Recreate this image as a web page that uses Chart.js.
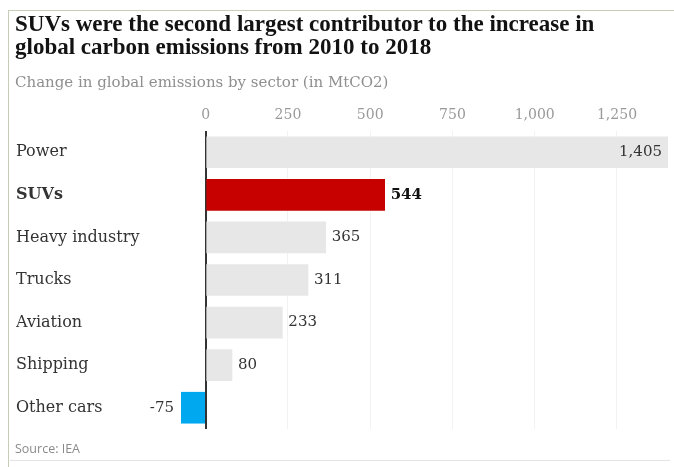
<!DOCTYPE html>
<html>
<head>
<meta charset="utf-8">
<script src="https://cdn.jsdelivr.net/npm/chart.js@4/dist/chart.umd.min.js"></script>
<style>
  html, body { margin: 0; padding: 0; background: #fff; }
  #wrap { position: relative; width: 674px; height: 467px; overflow: hidden; }
  #frame { position: absolute; left: 8px; top: 10px; width: 680px; height: 470px;
           border-left: 1px solid #c6cdb9; border-top: 1px solid #c6cdb9; }
  #title { position: absolute; left: 15px; top: 12px; width: 625px;
           font: bold 23px "Liberation Serif", serif; line-height: 23px; color: #121212; }
  #subtitle { position: absolute; left: 15px; top: 73px;
              font: 15px "DejaVu Serif", serif; color: #8f8f8f; }
  #source { position: absolute; left: 15px; top: 440px;
            font: 12.5px "Open Sans", sans-serif; color: #8a8a8a; }
  #rule { position: absolute; left: 10px; right: 4px; top: 460px; border-top: 1px solid #e4e4e4; }
  canvas { position: absolute; left: 0; top: 0; }
</style>
</head>
<body>
<div id="wrap">
  <div id="frame"></div>
  <canvas id="chart" width="674" height="467"></canvas>
  <div id="title">SUVs were the second largest contributor to the increase in global carbon emissions from 2010 to 2018</div>
  <div id="subtitle">Change in global emissions by sector (in MtCO2)</div>
  <div id="source">Source: IEA</div>
  <div id="rule"></div>
</div>
<script>
// data
const sectors = ['Power', 'SUVs', 'Heavy industry', 'Trucks', 'Aviation', 'Shipping', 'Other cars'];
const emissionChange = [1405, 544, 365, 311, 233, 80, -75];
const axisTicks = [0, 250, 500, 750, 1000, 1250];

const barColors = emissionChange.map((v, i) =>
    sectors[i] === 'SUVs' ? '#c70000' : (v < 0 ? '#00a8f0' : '#e7e7e7'));

const fmt = v => v.toLocaleString('en-US');

// value labels next to each bar
const valueLabels = {
    id: 'valueLabels',
    afterDatasetsDraw(chart) {
        const ctx = chart.ctx;
        const meta = chart.getDatasetMeta(0);
        const area = chart.chartArea;
        ctx.save();
        ctx.textBaseline = 'middle';
        meta.data.forEach((bar, i) => {
            const v = emissionChange[i];
            const bold = sectors[i] === 'SUVs';
            ctx.font = (bold ? 'bold ' : '') + '15px "DejaVu Serif", serif';
            ctx.fillStyle = bold ? '#121212' : '#333';
            const txt = fmt(v);
            const w = ctx.measureText(txt).width;
            if (v < 0) {
                ctx.textAlign = 'right';
                ctx.fillText(txt, bar.x - 7, bar.y);
            } else if (bar.x + 6 + w > area.right) {
                ctx.textAlign = 'right';
                ctx.fillText(txt, bar.x - 6, bar.y);
            } else {
                ctx.textAlign = 'left';
                ctx.fillText(txt, bar.x + 6, bar.y);
            }
        });
        ctx.restore();
    }
};

new Chart(document.getElementById('chart'), {
    type: 'bar',
    data: {
        labels: sectors,
        datasets: [{
            data: emissionChange,
            backgroundColor: barColors,
            borderWidth: 0,
            barThickness: 31
        }]
    },
    options: {
        indexAxis: 'y',
        responsive: false,
        animation: false,
        layout: { padding: { left: 16, right: 6, top: 100, bottom: 38 } },
        plugins: {
            legend: { display: false },
            tooltip: { enabled: false }
        },
        scales: {
            x: {
                position: 'top',
                min: -75,
                max: 1405,
                z: 1,
                afterBuildTicks: scale => { scale.ticks = axisTicks.map(v => ({ value: v })); },
                afterFit: scale => { scale.height = 31; },
                border: { display: false },
                grid: {
                    drawTicks: false,
                    color: c => c.tick && c.tick.value === 0 ? '#333' : 'rgba(0,0,0,0.05)',
                    lineWidth: c => c.tick && c.tick.value === 0 ? 2 : 1
                },
                ticks: {
                    padding: 7,
                    color: '#999',
                    font: { family: '"DejaVu Serif", serif', size: 14 },
                    callback: v => fmt(v)
                }
            },
            y: {
                afterFit: scale => { scale.width = 165; },
                border: { display: false },
                grid: { display: false, drawTicks: false },
                ticks: {
                    crossAlign: 'far',
                    color: '#333',
                    font: c => ({
                        family: '"DejaVu Serif", serif',
                        size: 16,
                        weight: sectors[c.index] === 'SUVs' ? 'bold' : 'normal'
                    })
                }
            }
        }
    },
    plugins: [valueLabels]
});
</script>
</body>
</html>
